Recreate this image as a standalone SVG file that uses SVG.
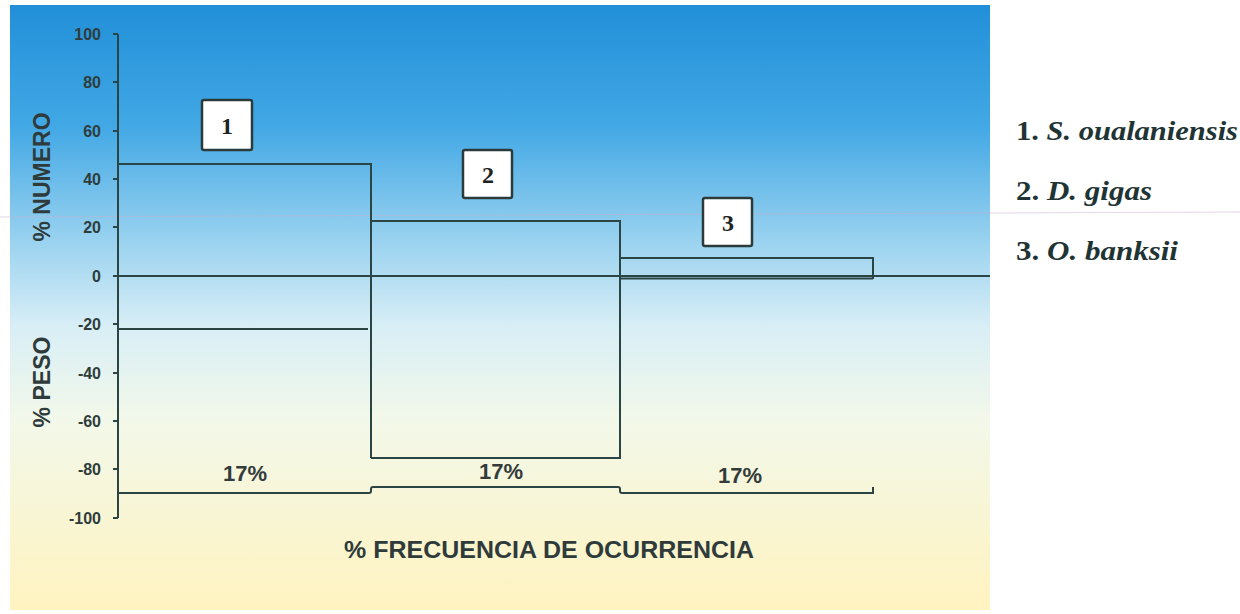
<svg xmlns="http://www.w3.org/2000/svg" width="1240" height="614" viewBox="0 0 1240 614">
<defs>
<linearGradient id="bg" x1="0" y1="0" x2="0" y2="1">
<stop offset="0" stop-color="#218fd8"/>
<stop offset="0.2" stop-color="#42a8e5"/>
<stop offset="0.38" stop-color="#95d0ef"/>
<stop offset="0.53" stop-color="#d8eef6"/>
<stop offset="0.68" stop-color="#f2f8ea"/>
<stop offset="1" stop-color="#fff3c0"/>
</linearGradient>
<style>
.ln{fill:none;stroke:#2b4545;stroke-width:2}
.tk{font-family:"Liberation Sans",Arial,sans-serif;font-weight:bold;font-size:16px;fill:#2f3d3a;text-anchor:end}
.ax{font-family:"Liberation Sans",Arial,sans-serif;font-weight:bold;font-size:23px;fill:#2f3b3b;text-anchor:middle}
.pc{font-family:"Liberation Sans",Arial,sans-serif;font-weight:bold;font-size:22px;fill:#333b3b;text-anchor:middle}
.bx{fill:#ffffff;stroke:#2b3b3b;stroke-width:2.5}
.bn{font-family:"Liberation Serif","Times New Roman",serif;font-weight:bold;font-size:24px;fill:#222;text-anchor:middle}
.lg{font-family:"Liberation Serif","Times New Roman",serif;font-weight:bold;font-size:27px;fill:#1f3434}
</style>
</defs>
<rect x="0" y="0" width="1240" height="614" fill="#ffffff"/>
<rect x="10" y="5" width="980" height="605" fill="url(#bg)"/>
<line x1="0" y1="217" x2="1240" y2="212" stroke="#c7b3d2" stroke-width="1" opacity="0.5"/>

<g id="axis">
<path class="ln" d="M118,34 V518 M113,34 H118 M113,82 H118 M113,131 H118 M113,179 H118 M113,227 H118 M113,324 H118 M113,373 H118 M113,421 H118 M113,469 H118 M113,518 H118"/>
<line class="ln" x1="113" y1="276" x2="990" y2="276"/>
<text class="tk" x="101" y="40">100</text>
<text class="tk" x="101" y="88">80</text>
<text class="tk" x="101" y="137">60</text>
<text class="tk" x="101" y="185">40</text>
<text class="tk" x="101" y="233">20</text>
<text class="tk" x="101" y="282">0</text>
<text class="tk" x="101" y="330">-20</text>
<text class="tk" x="101" y="379">-40</text>
<text class="tk" x="101" y="427">-60</text>
<text class="tk" x="101" y="475">-80</text>
<text class="tk" x="101" y="524">-100</text>
<text class="ax" transform="translate(50,177) rotate(-90)">% NUMERO</text>
<text class="ax" font-size="24" transform="translate(50,382) rotate(-90)">% PESO</text>
<text class="ax" x="549" y="558" font-size="24" textLength="410" lengthAdjust="spacingAndGlyphs">% FRECUENCIA DE OCURRENCIA</text>
</g>

<g id="connectors">
<path class="ln" d="M118,164 H371 V458"/>
<path class="ln" d="M118,329 H368"/>
<path class="ln" d="M371,221 H620 V458 H371"/>
<path class="ln" d="M620,258 H873 V279"/>
<path class="ln" stroke-width="3" d="M620,278.5 H873"/>
<path class="ln" d="M118,493 H369 Q371,493 371,491 V489 Q371,487 373,487 H618 Q620,487 620,489 V491 Q620,493 622,493 H873 V487"/>
</g>

<g id="node-1">
<rect class="bx" x="202" y="100" width="50" height="50" rx="2"/>
<text class="bn" x="227" y="134">1</text>
<text class="pc" x="245" y="481">17%</text>
</g>
<g id="node-2">
<rect class="bx" x="463" y="150" width="49" height="48" rx="2"/>
<text class="bn" x="488" y="183">2</text>
<text class="pc" x="501" y="479">17%</text>
</g>
<g id="node-3">
<rect class="bx" x="703" y="198" width="49" height="48" rx="2"/>
<text class="bn" x="728" y="231">3</text>
<text class="pc" x="740" y="483">17%</text>
</g>

<g id="legend">
<text class="lg" x="1016" y="140" textLength="222" lengthAdjust="spacingAndGlyphs">1. <tspan font-style="italic">S. oualaniensis</tspan></text>
<text class="lg" x="1016" y="200" textLength="136" lengthAdjust="spacingAndGlyphs">2. <tspan font-style="italic">D. gigas</tspan></text>
<text class="lg" x="1016" y="260" textLength="162" lengthAdjust="spacingAndGlyphs">3. <tspan font-style="italic">O. banksii</tspan></text>
</g>
</svg>
